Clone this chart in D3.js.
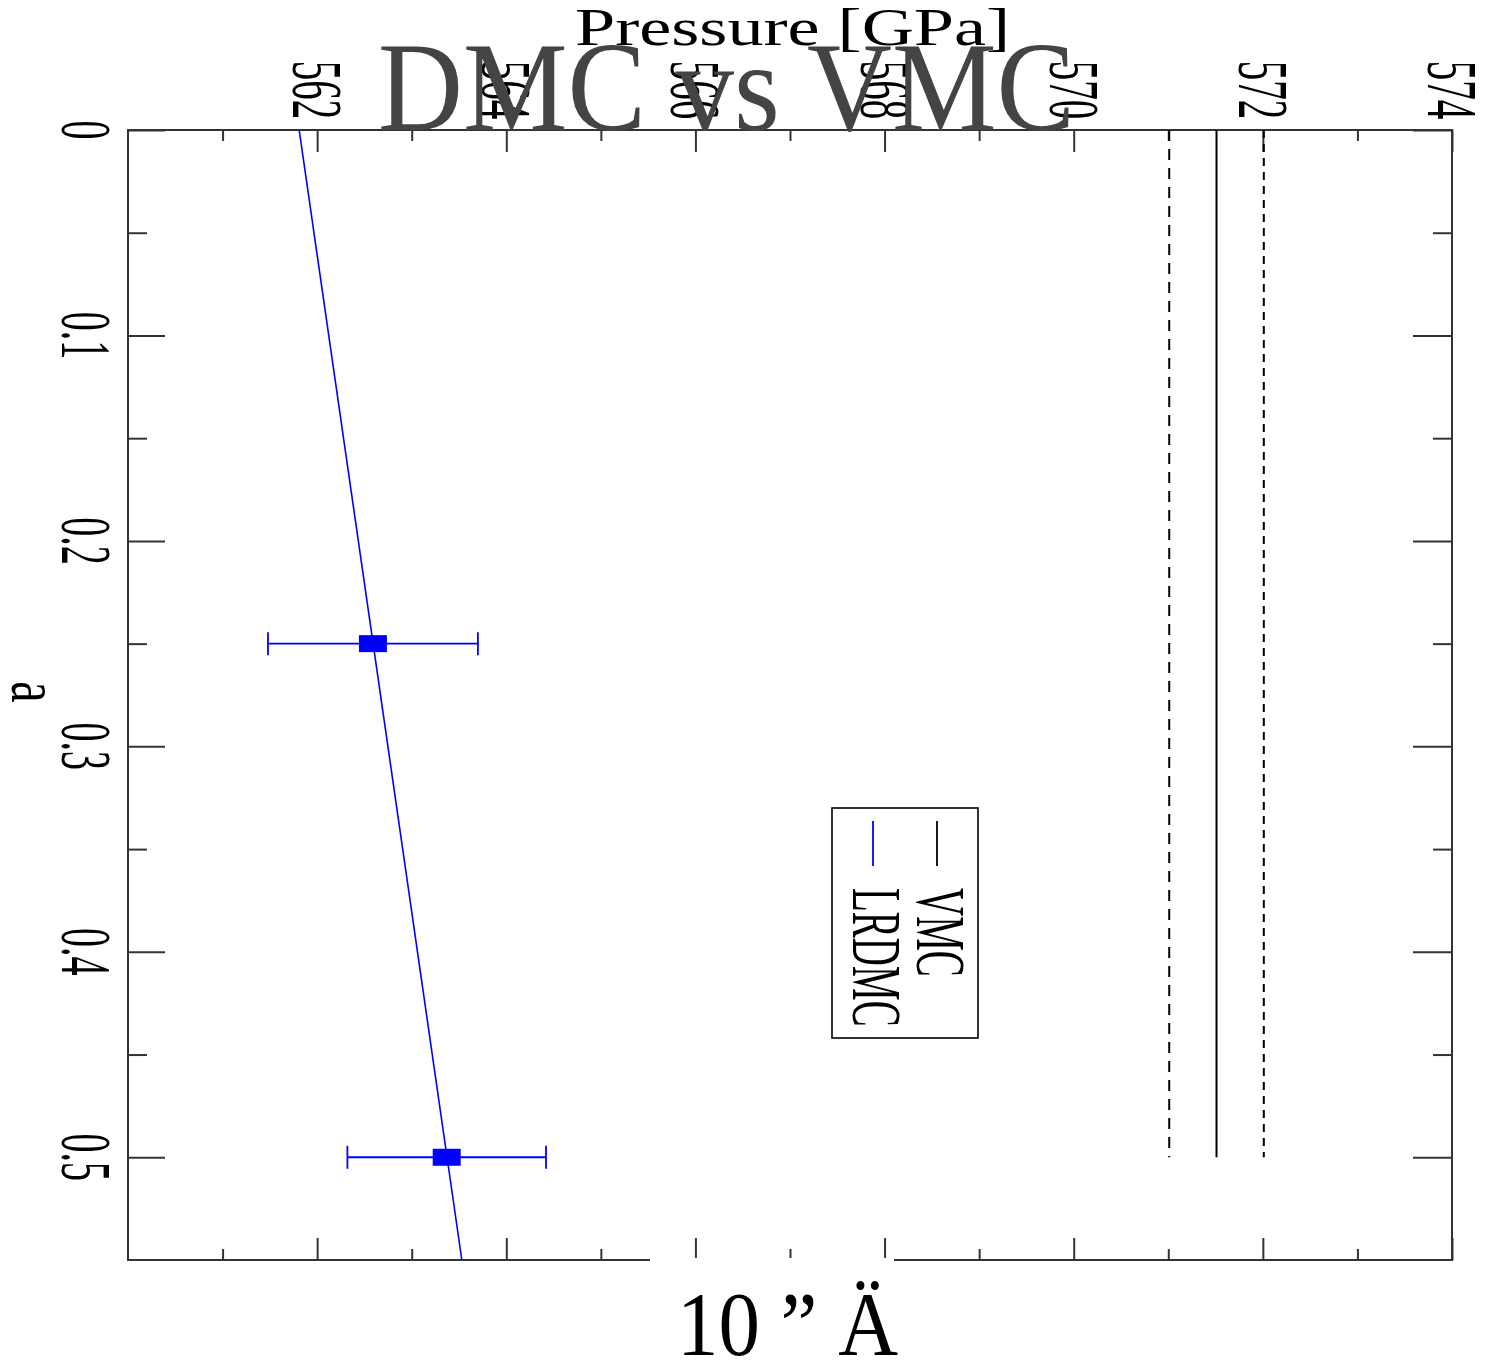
<!DOCTYPE html>
<html><head><meta charset="utf-8">
<script src="https://cdn.jsdelivr.net/npm/d3@7"></script>
<style>html,body{margin:0;padding:0;background:#fff;}svg{display:block;}</style>
</head><body>
<script>
// ---- data ----
const xMajorTicks = [562, 564, 566, 568, 570, 572, 574];
const xMinorTicks = [561, 563, 565, 567, 569, 571, 573];
const xTickLabels = ["562", "564", "566", "568", "570", "572", "574"];
const yMajorTicks = [0, 0.1, 0.2, 0.3, 0.4, 0.5];
const yMinorTicks = [0.05, 0.15, 0.25, 0.35, 0.45];
const yTickLabels = ["0", "0.1", "0.2", "0.3", "0.4", "0.5"];
const lrdmcA = [0.25, 0.5];
const lrdmcP = [562.59, 563.37];
const lrdmcErr = [1.11, 1.05];
const fitA = [0, 0.55];
const fitP = [561.81, 563.53];
const vmcP = 571.51;
const vmcErr = 0.50;
const vmcA = [0, 0.5];
const legendLabels = ["VMC", "LRDMC"];
const legendColors = ["#000", "#0000ff"];

const W = 1486, H = 1366;
const L = 128, R = 1452, T = 130, B = 1260;
const x = d3.scaleLinear().domain([560, 574]).range([L, R]);
const y = d3.scaleLinear().domain([0, 0.55]).range([T, B]);
const FONT = "'Liberation Serif','Times New Roman',serif";

const svg = d3.select("body").append("svg").attr("width", W).attr("height", H);

// ticks
const axCol = "#333";
function ticks(axisGen, tx, ty, vals, size) {
  const g = svg.append("g").attr("transform", `translate(${tx},${ty})`)
    .call(axisGen.tickValues(vals).tickSizeInner(size).tickSizeOuter(0).tickFormat(""));
  g.select(".domain").remove();
  g.selectAll("line").attr("stroke", axCol).attr("stroke-width", 2);
}
ticks(d3.axisTop(x), 0, T, xMajorTicks, -22);
ticks(d3.axisTop(x), 0, T, xMinorTicks, -11);
ticks(d3.axisBottom(x), 0, B, xMajorTicks, -22);
ticks(d3.axisBottom(x), 0, B, xMinorTicks, -11);
ticks(d3.axisLeft(y), L, 0, yMajorTicks, -37);
ticks(d3.axisLeft(y), L, 0, yMinorTicks, -19);
ticks(d3.axisRight(y), R, 0, yMajorTicks, -39);
ticks(d3.axisRight(y), R, 0, yMinorTicks, -19);

svg.append("rect").attr("x", L).attr("y", T).attr("width", R - L).attr("height", B - T)
  .attr("fill", "none").attr("stroke", axCol).attr("stroke-width", 2);

// VMC lines
const vmcLines = [
  {p: vmcP - vmcErr, dash: "11,8"},
  {p: vmcP, dash: null},
  {p: vmcP + vmcErr, dash: "8,6"}
];
svg.selectAll(".vmc").data(vmcLines).join("line")
  .attr("x1", d => x(d.p)).attr("x2", d => x(d.p))
  .attr("y1", y(vmcA[0])).attr("y2", y(vmcA[1]))
  .attr("stroke", "#000").attr("stroke-width", 2)
  .attr("stroke-dasharray", d => d.dash);

// LRDMC fit line
const blue = "#0000ff";
svg.append("path")
  .datum(fitA.map((a, i) => [a, fitP[i]]))
  .attr("d", d3.line().x(d => x(d[1])).y(d => y(d[0])))
  .attr("fill", "none").attr("stroke", blue).attr("stroke-width", 1.6);

const pts = lrdmcA.map((a, i) => ({a, p: lrdmcP[i], e: lrdmcErr[i]}));
const eb = svg.append("g").attr("stroke", blue).attr("stroke-width", 1.8);
pts.forEach(d => {
  eb.append("line").attr("x1", x(d.p - d.e)).attr("x2", x(d.p + d.e)).attr("y1", y(d.a)).attr("y2", y(d.a));
  [d.p - d.e, d.p + d.e].forEach(v => {
    eb.append("line").attr("x1", x(v)).attr("x2", x(v)).attr("y1", y(d.a) - 11.5).attr("y2", y(d.a) + 11.5);
  });
});
svg.selectAll(".mk").data(pts).join("rect")
  .attr("x", d => x(d.p) - 14).attr("y", d => y(d.a) - 8.5)
  .attr("width", 28).attr("height", 17).attr("fill", blue);

// rotated text helper
function rtext(tx, ty, str, size, k, anchor) {
  svg.append("text")
    .attr("transform", `translate(${tx},${ty}) rotate(90) scale(1,${k})`)
    .attr("font-family", FONT).attr("font-size", size)
    .attr("text-anchor", anchor).attr("fill", "#000")
    .text(str);
}
// y tick labels
yMajorTicks.forEach((v, i) => rtext(62, y(v), yTickLabels[i], 38, 1.9, "middle"));
// x tick labels (top)
xMajorTicks.forEach((v, i) => rtext(x(v) - 24, 90, xTickLabels[i], 39, 1.85, "middle"));
// y axis label
rtext(12, 692, "a", 48, 1.45, "middle");

// legend
svg.append("rect").attr("x", 832).attr("y", 808).attr("width", 146).attr("height", 230)
  .attr("fill", "none").attr("stroke", "#000").attr("stroke-width", 1.6);
const legX = [937, 873];
legendLabels.forEach((lab, i) => {
  svg.append("line").attr("x1", legX[i]).attr("x2", legX[i]).attr("y1", 821).attr("y2", 866)
    .attr("stroke", legendColors[i]).attr("stroke-width", 1.8);
  rtext(legX[i] - 20, 888, lab, 39, 1.78, "start");
});

// x axis title
svg.append("text").attr("x", 575).attr("y", 45)
  .attr("font-family", FONT).attr("font-size", 53).attr("fill", "#000")
  .attr("textLength", 435).attr("lengthAdjust", "spacingAndGlyphs")
  .text("Pressure [GPa]");

// bottom caption with white backing
svg.append("rect").attr("x", 650).attr("y", 1258).attr("width", 244).attr("height", H - 1258).attr("fill", "#fff");
svg.append("text").attr("x", 677).attr("y", 1355)
  .attr("font-family", FONT).attr("font-size", 90).attr("fill", "#000")
  .attr("textLength", 221).attr("lengthAdjust", "spacingAndGlyphs")
  .text("10 \u201D \u00C4");

// main title
svg.append("text").attr("x", 378).attr("y", 130)
  .attr("font-family", FONT).attr("font-size", 126).attr("fill", "#444")
  .attr("textLength", 697).attr("lengthAdjust", "spacingAndGlyphs")
  .text("DMC vs VMC");
</script>
</body></html>
